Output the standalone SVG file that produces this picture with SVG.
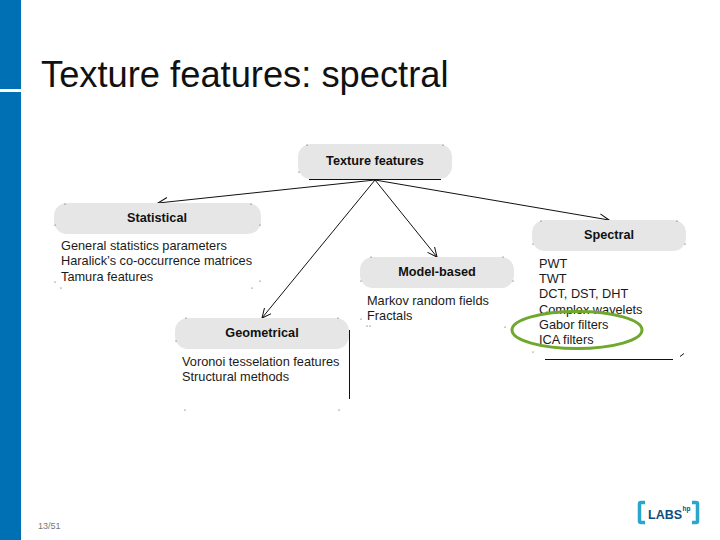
<svg xmlns="http://www.w3.org/2000/svg" width="720" height="540" viewBox="0 0 720 540">
<style>
text{font-family:"Liberation Sans",Arial,sans-serif}
.box{fill:#e6e6e6}
.h{font-size:12.700px;font-weight:bold;fill:#111;text-anchor:middle}
.t{font-size:12.750px;fill:#1a1a1a}
.c{fill:none;stroke:#111;stroke-width:1;marker-end:url(#a)}
.l{stroke:#111;stroke-width:1;fill:none}
.dots{fill:#444}
</style>
<defs>
<marker id="a" viewBox="0 0 10 10" refX="9.500" refY="5" markerWidth="10" markerHeight="10" markerUnits="userSpaceOnUse" orient="auto"><path d="M0 0.500L9.500 5L0 9.500" fill="none" stroke="#111" stroke-width="1"/></marker>
<circle id="p" r="0.600"/>
</defs>
<rect width="720" height="540" fill="#fff"/>
<rect x="0" y="0" width="21" height="89" fill="#0070b5"/>
<rect x="0" y="92" width="21" height="448" fill="#0070b5"/>
<text x="41" y="87" font-size="36.300" fill="#111">Texture features: spectral</text>

<g id="connectors">
<path class="c" d="M375 180L158 203"/>
<path class="c" d="M375 180L262 318"/>
<path class="c" d="M375 180L437 257"/>
<path class="c" d="M375 180L609 220"/>
</g>

<g id="node-texture"><rect class="box" x="298" y="144" width="154" height="35" rx="13"/><path class="l" d="M309 179.500H441"/><text class="h" x="375" y="165">Texture features</text></g>
<g id="node-statistical"><rect class="box" x="54" y="203" width="207" height="31" rx="13"/><text class="h" x="157" y="222">Statistical</text>
<text class="t"><tspan x="61" y="250">General statistics parameters</tspan><tspan x="61" y="265">Haralick’s co-occurrence matrices</tspan><tspan x="61" y="281">Tamura features</tspan></text></g>
<g id="node-model"><rect class="box" x="360" y="257" width="154" height="31" rx="13"/><text class="h" x="437" y="276">Model-based</text>
<text class="t"><tspan x="367" y="305">Markov random fields</tspan><tspan x="367" y="320">Fractals</tspan></text></g>
<g id="node-spectral"><rect class="box" x="532" y="220" width="154" height="31" rx="13"/><text class="h" x="609" y="239">Spectral</text>
<text class="t"><tspan x="539" y="268">PWT</tspan><tspan x="539" y="283">TWT</tspan><tspan x="539" y="298">DCT, DST, DHT</tspan><tspan x="539" y="314">Complex wavelets</tspan><tspan x="539" y="329">Gabor filters</tspan><tspan x="539" y="344">ICA filters</tspan></text>
<path class="l" d="M545 359.500H673M680 356.500L684 353.500"/></g>
<g id="node-geometrical"><rect class="box" x="175" y="318" width="174" height="31" rx="13"/><text class="h" x="262" y="337">Geometrical</text>
<text class="t"><tspan x="182" y="366">Voronoi tesselation features</tspan><tspan x="182" y="381">Structural methods</tspan></text>
<path class="l" d="M349.500 330V399"/></g>

<ellipse id="highlight" cx="577" cy="330" rx="65" ry="18.500" fill="none" stroke="#70a82d" stroke-width="3"/>

<g class="dots">
<use href="#p" x="65" y="204"/><use href="#p" x="251" y="204"/><use href="#p" x="55" y="225"/><use href="#p" x="260" y="225"/>
<use href="#p" x="55" y="282"/><use href="#p" x="61" y="288"/><use href="#p" x="252" y="288"/><use href="#p" x="260" y="281"/>
<use href="#p" x="307" y="145"/><use href="#p" x="443" y="145"/><use href="#p" x="299" y="172"/>
<use href="#p" x="371" y="257"/><use href="#p" x="503" y="257"/><use href="#p" x="361" y="281"/><use href="#p" x="513" y="281"/>
<use href="#p" x="361" y="319"/><use href="#p" x="367" y="326"/><use href="#p" x="370" y="326"/>
<use href="#p" x="541" y="221"/><use href="#p" x="677" y="221"/><use href="#p" x="533" y="244"/><use href="#p" x="685" y="244"/>
<use href="#p" x="505" y="327"/><use href="#p" x="533" y="352"/>
<use href="#p" x="186" y="318"/><use href="#p" x="338" y="318"/><use href="#p" x="176" y="341"/><use href="#p" x="185" y="410"/><use href="#p" x="339" y="410"/>
</g>

<text x="38" y="529" font-size="9" fill="#777">13/51</text>

<g id="logo">
<path d="M645 502.500H641Q639.500 502.500 639.500 504V521Q639.500 522.500 641 522.500H645" fill="none" stroke="#2ba6cb" stroke-width="3.500"/>
<path d="M692 502.500H696Q697.500 502.500 697.500 504V521Q697.500 522.500 696 522.500H692" fill="none" stroke="#2ba6cb" stroke-width="3.500"/>
<text x="648" y="519" font-size="12.500" font-weight="bold" fill="#0f4c81">LABS</text>
<text x="682.500" y="510.500" font-size="6.500" font-weight="bold" fill="#0f4c81">hp</text>
</g>
</svg>
